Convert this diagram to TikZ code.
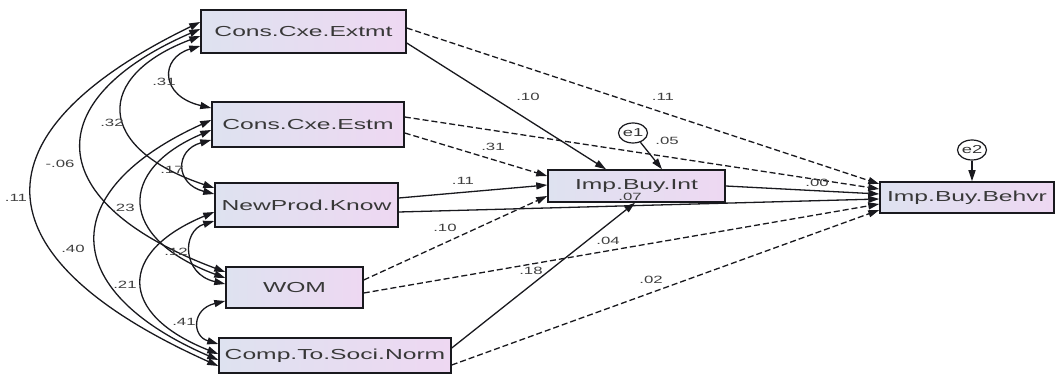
\documentclass[tikz,border=0pt]{standalone}
\usepackage{fontspec}
\usepackage{graphicx}
\setmainfont{Liberation Sans}
\usetikzlibrary{arrows.meta,shapes.geometric}
\definecolor{boxl}{RGB}{222,226,240}
\definecolor{boxr}{RGB}{238,216,242}
\definecolor{edge}{RGB}{25,25,30}
\newcommand{\wide}[1]{\scalebox{1.7}[1]{#1}}
\newcommand{\lwide}[1]{\scalebox{1.6}[1]{#1}}
\tikzset{
  var/.style={draw=edge, line width=1.5pt, left color=boxl, right color=boxr,
    inner sep=0pt, text=black!78, font=\fontsize{14.5}{14.5}\selectfont},
  lbl/.style={font=\fontsize{10.5}{10.5}\selectfont, inner sep=0pt, text=black!75},
  tip/.tip={Triangle[length=11pt,width=7pt]},
  rpath/.style={draw=edge, line width=1.3pt, -tip},
  dpath/.style={rpath, dash pattern=on 6pt off 3pt},
  cov/.style={draw=edge, line width=1.3pt, tip-tip},
  errv/.style={draw=edge, ellipse, line width=1.2pt, inner sep=0pt,
    minimum width=27pt, minimum height=20pt, font=\fontsize{11.5}{11.5}\selectfont, text=black!80}
}
\begin{document}
\begin{tikzpicture}[x=1pt,y=-1pt]
\fill[white] (0,0) rectangle (1055,379);
\useasboundingbox (0,0) rectangle (1055,379);

% variables
\node[var, minimum width=205pt, minimum height=43pt] (ext) at (303.5,31.5) {\wide{Cons.Cxe.Extmt}};
\node[var, minimum width=192pt, minimum height=45pt] (est) at (308,124.5) {\wide{Cons.Cxe.Estm}};
\node[var, minimum width=183pt, minimum height=44pt] (new) at (306.5,205) {\wide{NewProd.Know}};
\node[var, minimum width=137pt, minimum height=41pt] (wom) at (294.5,287.5) {\wide{WOM}};
\node[var, minimum width=232pt, minimum height=35pt] (comp) at (335,355.5) {\wide{Comp.To.Soci.Norm}};
\node[var, minimum width=177pt, minimum height=32pt] (int) at (636.5,186) {\wide{Imp.Buy.Int}};
\node[var, minimum width=174pt, minimum height=31pt] (beh) at (967,197.5) {\wide{Imp.Buy.Behvr}};
\node[errv] (e1) at (633,133) {\lwide{e1}};
\node[errv] (e2) at (972,150) {\lwide{e2}};

% covariances
\draw[cov] (ext.west |- 0,46) .. controls +(-40.5,12) and +(-51.5,-12) .. (est.west |- 0,108);
\draw[cov] (ext.west |- 0,36) .. controls +(-106,40) and +(-120,-40) .. (new.west |- 0,188);
\draw[cov] (ext.west |- 0,29) .. controls +(-161.5,70) and +(-186.5,-70) .. (wom.west |- 0,272);
\draw[cov] (ext.west |- 0,22) .. controls +(-227,110) and +(-245,-110) .. (comp.west |- 0,366);
\draw[cov] (est.west |- 0,140) .. controls +(-36.5,10) and +(-39.5,-10) .. (new.west |- 0,194);
\draw[cov] (est.west |- 0,130) .. controls +(-94,40) and +(-108,-40) .. (wom.west |- 0,278);
\draw[cov] (est.west |- 0,120) .. controls +(-154.5,70) and +(-161.5,-70) .. (comp.west |- 0,360);
\draw[cov] (new.west |- 0,221) .. controls +(-32.5,10) and +(-43.5,-10) .. (wom.west |- 0,284);
\draw[cov] (new.west |- 0,212) .. controls +(-96.7,40) and +(-100.7,-40) .. (comp.west |- 0,354);
\draw[cov] (wom.west |- 0,301) .. controls +(-33.5,8) and +(-26.5,-8) .. (comp.west |- 0,344);

% regressions
\draw[rpath] (ext.east |- 0,43) -- (int.north -| 606,0);
\draw[dpath] (ext.east |- 0,28) -- (beh.west |- 0,184);
\draw[dpath] (est.east |- 0,133) -- (int.west |- 0,176);
\draw[dpath] (est.east |- 0,117) -- (beh.west |- 0,189);
\draw[rpath] (new.east |- 0,198) -- (int.west |- 0,185);
\draw[rpath] (new.east |- 0,212) -- (beh.west |- 0,199);
\draw[dpath] (wom.east |- 0,280) -- (int.west |- 0,196);
\draw[dpath] (wom.east |- 0,293) -- (beh.west |- 0,204);
\draw[rpath] (comp.east |- 0,348) -- (int.south -| 635,0);
\draw[dpath] (comp.east |- 0,365) -- (beh.west |- 0,210);
\draw[rpath] (int.east) -- (beh.west |- 0,194);
\draw[rpath] (e1) -- (int.north -| 662,0);
\draw[rpath] (e2) -- (beh.north -| e2);

% covariance labels
\node[lbl] (l31a) at (164,82) {\lwide{.31}};
\node[lbl] (l32) at (112,123) {\lwide{.32}};
\node[lbl] (l06) at (60,164) {\lwide{-.06}};
\node[lbl] (l17) at (172,170) {\lwide{.17}};
\node[lbl] (l11a) at (16,198) {\lwide{.11}};
\node[lbl] (l23) at (123,208) {\lwide{.23}};
\node[lbl] (l40) at (73,249) {\lwide{.40}};
\node[lbl] (l12) at (176,252) {\lwide{.12}};
\node[lbl] (l21) at (125,285) {\lwide{.21}};
\node[lbl] (l41) at (184,322) {\lwide{.41}};

% path labels
\node[lbl] (l10a) at (528,97) {\lwide{.10}};
\node[lbl] (l11b) at (663,97) {\lwide{.11}};
\node[lbl] (l31b) at (493,147) {\lwide{.31}};
\node[lbl] (l11c) at (463,181) {\lwide{.11}};
\node[lbl] (l10b) at (445,228) {\lwide{.10}};
\node[lbl] (l05) at (667,141) {\lwide{.05}};
\node[lbl] (l07) at (630,197) {\lwide{.07}};
\node[lbl] (l04) at (608,241) {\lwide{.04}};
\node[lbl] (l18) at (531,271) {\lwide{.18}};
\node[lbl] (l02) at (651,280) {\lwide{.02}};
\node[lbl] (l00) at (817,183) {\lwide{.00}};
\end{tikzpicture}
\end{document}
